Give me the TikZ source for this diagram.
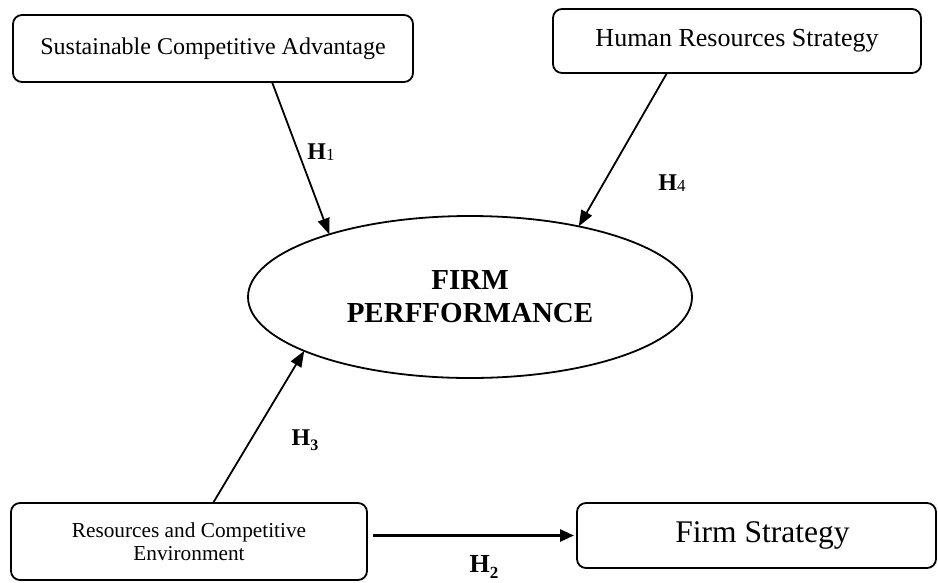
\documentclass[tikz,border=0pt]{standalone}
\usepackage{fontspec}
\setmainfont{Liberation Serif}
\usetikzlibrary{arrows.meta,shapes.geometric,calc}
\begin{document}
\begin{tikzpicture}[x=1pt,y=-1pt,
  box/.style={draw,line width=1.8pt,rounded corners=9pt,inner sep=0pt,outer sep=0pt,anchor=north west,align=center},
  arr/.style={line width=1.8pt,-{Triangle[length=16pt,width=12pt]}},
  hlab/.style={font=\fontsize{24}{26}\selectfont\bfseries,inner sep=0pt}]
\useasboundingbox (0,0) rectangle (938,582);

\node[box,minimum width=400pt,minimum height=67pt,font=\fontsize{24}{28}\selectfont] (sca) at (13,15) {Sustainable Competitive Advantage};
\node[box,minimum width=368pt,minimum height=64pt,font=\fontsize{26}{30}\selectfont] (hrs) at (553,9) {Human Resources Strategy};
\node[box,minimum width=356pt,minimum height=77pt,font=\fontsize{21.3}{23.5}\selectfont] (rce) at (11,503) {Resources and Competitive\\Environment};
\node[box,minimum width=359pt,minimum height=65pt,font=\fontsize{31.5}{34}\selectfont] (fs) at (577,503) {\hspace*{12pt}Firm Strategy};

\node[draw,ellipse,line width=1.8pt,minimum width=444pt,minimum height=162pt,inner sep=0pt,outer sep=0pt,align=center,font=\fontsize{29}{33}\selectfont\bfseries] (fp) at (470,297) {FIRM\\PERFFORMANCE};

\draw[arr] ([xshift=259pt]sca.south west) -- (fp.156);
\draw[arr] ([xshift=114pt]hrs.south west) -- (fp.33.7);
\draw[arr] ([xshift=202pt]rce.north west) -- (fp.198.2);
\draw[line width=2.6pt,-{Triangle[length=14pt,width=12pt]},shorten >=3pt] ($(rce.east |- fs.west)+(6,0)$) -- (fs.west);

\node[hlab] (h1) at (321,152) {H\raisebox{-0.15ex}{\fontsize{17}{17}\selectfont\mdseries 1}};
\node[hlab] (h4) at (672,183) {H\raisebox{-0.15ex}{\fontsize{17}{17}\selectfont\mdseries 4}};
\node[hlab] (h3) at (305,440) {H\raisebox{-0.45ex}{\fontsize{16}{16}\selectfont 3}};
\node[hlab,font=\fontsize{26}{28}\selectfont\bfseries] (h2) at (484,567) {H\raisebox{-0.45ex}{\fontsize{17}{17}\selectfont 2}};
\end{tikzpicture}
\end{document}
